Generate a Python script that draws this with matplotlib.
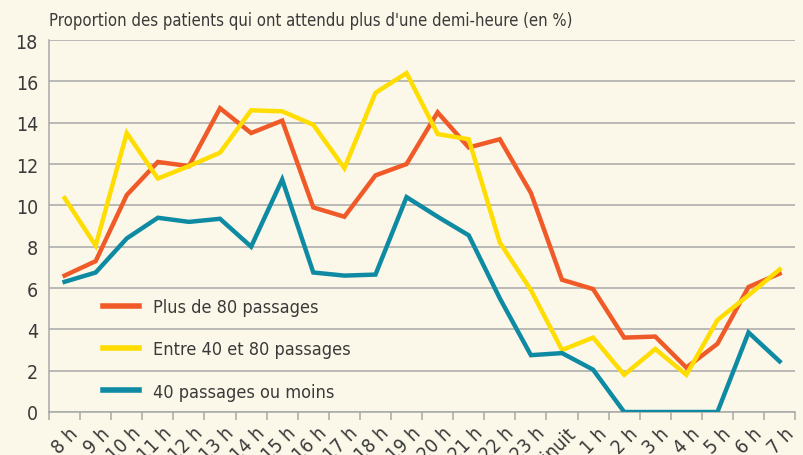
import numpy as np
import matplotlib
matplotlib.use('Agg')
import matplotlib.pyplot as plt
import matplotlib.transforms as mtransforms

hours = ['8 h', '9 h', '10 h', '11 h', '12 h', '13 h', '14 h', '15 h', '16 h',
         '17 h', '18 h', '19 h', '20 h', '21 h', '22 h', '23 h', 'Minuit',
         '1 h', '2 h', '3 h', '4 h', '5 h', '6 h', '7 h']

plus_80 = [6.6, 7.3, 10.5, 12.1, 11.9, 14.7, 13.5, 14.1, 9.9, 9.45, 11.45, 12.0,
           14.5, 12.8, 13.2, 10.6, 6.4, 5.95, 3.6, 3.65, 2.15, 3.3, 6.05, 6.7]
entre_40_80 = [10.35, 8.05, 13.5, 11.3, 11.9, 12.55, 14.6, 14.55, 13.9, 11.8, 15.45, 16.4,
               13.45, 13.2, 8.2, 5.9, 3.0, 3.6, 1.8, 3.05, 1.8, 4.45, 5.65, 6.9]
moins_40 = [6.3, 6.75, 8.4, 9.4, 9.2, 9.35, 8.0, 11.25, 6.75, 6.6, 6.65, 10.4,
            9.45, 8.55, 5.5, 2.75, 2.85, 2.05, 0, 0, 0, 0, 3.85, 2.45]

labels = ['Plus de 80 passages', 'Entre 40 et 80 passages', '40 passages ou moins']
colors = ['#F05A28', '#FFDD00', '#0E8BA3']

bg = '#FCF8E9'
grid_col = '#A8A8A8'
text_col = '#3A3A3A'

plt.rcParams['font.family'] = ['DejaVu Sans']
plt.rcParams['font.stretch'] = 'condensed'

fig = plt.figure(figsize=(8.04, 4.56), dpi=100, facecolor=bg)
ax = fig.add_axes([0.061, 0.0943, 0.928, 0.8157], facecolor=bg)

x = np.arange(len(hours))
for vals, lab, col in zip([plus_80, entre_40_80, moins_40], labels, colors):
    ax.plot(x, vals, color=col, lw=3.2, label=lab, solid_joinstyle='miter', zorder=3)

ax.set_xlim(-0.5, len(hours) - 0.5)
ax.set_ylim(0, 18)
ax.set_yticks(range(0, 19, 2))
ax.yaxis.grid(True, color=grid_col, lw=1.1)
ax.set_axisbelow(True)
for s in ['top', 'right']:
    ax.spines[s].set_visible(False)
for s in ['left', 'bottom']:
    ax.spines[s].set_color(grid_col)
    ax.spines[s].set_linewidth(1.1)

# ticks at category boundaries, labels at centres
ax.set_xticks(np.arange(len(hours) + 1) - 0.5)
ax.set_xticklabels([])
ax.tick_params(axis='x', length=6, width=1.1, color=grid_col)
ax.tick_params(axis='y', length=0, labelsize=14, colors=text_col, pad=8)

offset = mtransforms.ScaledTranslation(3 / 72, -8 / 72, fig.dpi_scale_trans)
for xi, lab in zip(x, hours):
    ax.text(xi, 0, lab, rotation=45, ha='right', va='top', rotation_mode='anchor',
            fontsize=14, color=text_col,
            transform=mtransforms.blended_transform_factory(ax.transData, ax.transAxes) + offset)

fig.text(0.061, 0.955, "Proportion des patients qui ont attendu plus d'une demi-heure (en %)",
         fontsize=12, color=text_col, ha='left', va='center')

leg = ax.legend(loc='lower left', bbox_to_anchor=(0.05, -0.013), frameon=False,
                fontsize=13, labelcolor=text_col, handlelength=2.0, handletextpad=0.8,
                labelspacing=1.35)
for h in leg.get_lines():
    h.set_linewidth(4)

fig.savefig('out.png', dpi=100, facecolor=bg)
